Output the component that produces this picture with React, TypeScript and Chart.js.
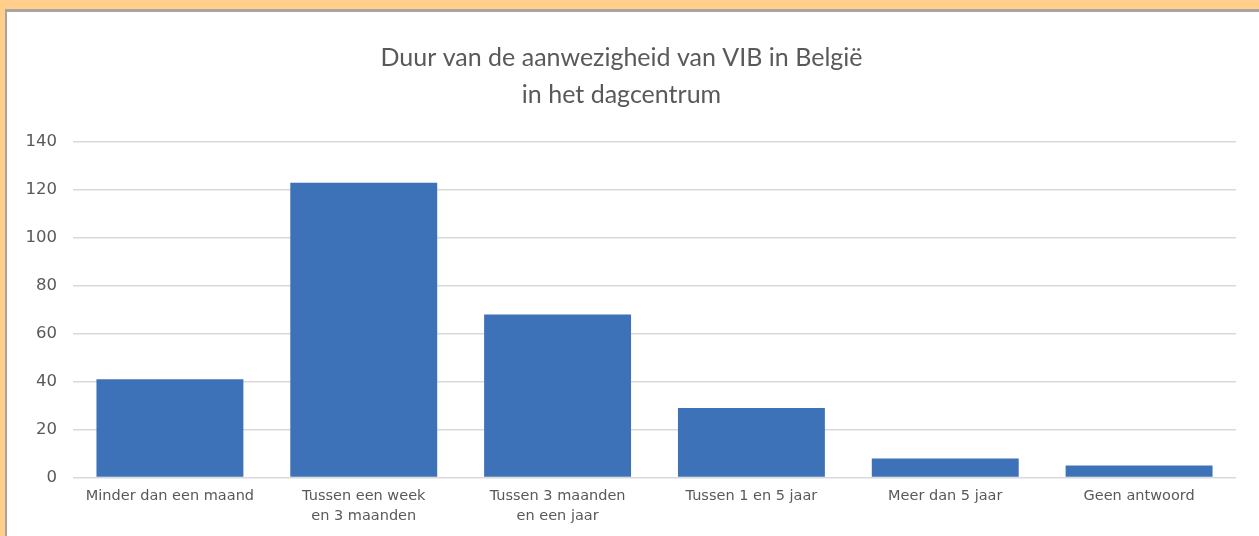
import React, { useEffect, useRef } from "react";
import { Chart, registerables } from "chart.js";

Chart.register(...registerables);

const titleLines = ["Duur van de aanwezigheid van VIB in België", "in het dagcentrum"];
const categories: (string | string[])[] = [
  "Minder dan een maand",
  ["Tussen een week", "en 3 maanden"],
  ["Tussen 3 maanden", "en een jaar"],
  "Tussen 1 en 5 jaar",
  "Meer dan 5 jaar",
  "Geen antwoord",
];
const values = [41, 123, 68, 29, 8, 5];
const yMin = 0;
const yMax = 140;
const yStep = 20;

const TITLE_FONT = "Lato, 'Noto Sans', sans-serif";
const TICK_FONT = "'DejaVu Sans', sans-serif";
const TEXT = "#595959";

export default function App() {
  const ref = useRef<HTMLCanvasElement>(null);
  useEffect(() => {
    document.body.style.margin = "0";
    const chart = new Chart(ref.current!, {
      type: "bar",
      data: {
        labels: categories,
        datasets: [
          {
            data: values,
            backgroundColor: "#3D72B9",
            categoryPercentage: 1,
            barPercentage: 0.758,
          },
        ],
      },
      options: {
        animation: false,
        responsive: false,
        maintainAspectRatio: false,
        layout: { padding: { left: 0, right: 23, top: 0, bottom: 9 } },
        plugins: {
          legend: { display: false },
          tooltip: { enabled: false },
          title: {
            display: true,
            text: titleLines,
            color: TEXT,
            font: { family: TITLE_FONT, size: 25, weight: "normal", lineHeight: 1.5 },
            padding: { top: 27, bottom: 28 },
          },
        },
        scales: {
          x: {
            grid: { display: false },
            border: { display: false },
            ticks: {
              color: TEXT,
              font: { family: TICK_FONT, size: 14.5, lineHeight: 1.36 },
              maxRotation: 0,
              autoSkip: false,
              padding: 1,
            },
          },
          y: {
            min: yMin,
            max: yMax,
            afterFit: (s: any) => {
              s.width = 66;
            },
            grid: { color: "#D9D9D9", lineWidth: 1.5, drawTicks: false },
            border: { display: false },
            ticks: {
              stepSize: yStep,
              color: TEXT,
              font: { family: TICK_FONT, size: 16.5 },
              padding: 16,
            },
          },
        },
      },
    });
    return () => chart.destroy();
  }, []);
  return (
    <div
      style={{
        position: "absolute",
        left: 0,
        top: 0,
        width: 1259,
        height: 536,
        background: "#FFCF8B",
        overflow: "hidden",
      }}
    >
      <div
        style={{
          position: "absolute",
          left: 5,
          top: 9,
          width: 1260,
          height: 540,
          background: "#ffffff",
          borderLeft: "2px solid #ABA2A4",
          borderTop: "3px solid #ABA2A4",
        }}
      >
        <canvas ref={ref} width={1252} height={524} style={{ display: "block" }} />
      </div>
    </div>
  );
}
